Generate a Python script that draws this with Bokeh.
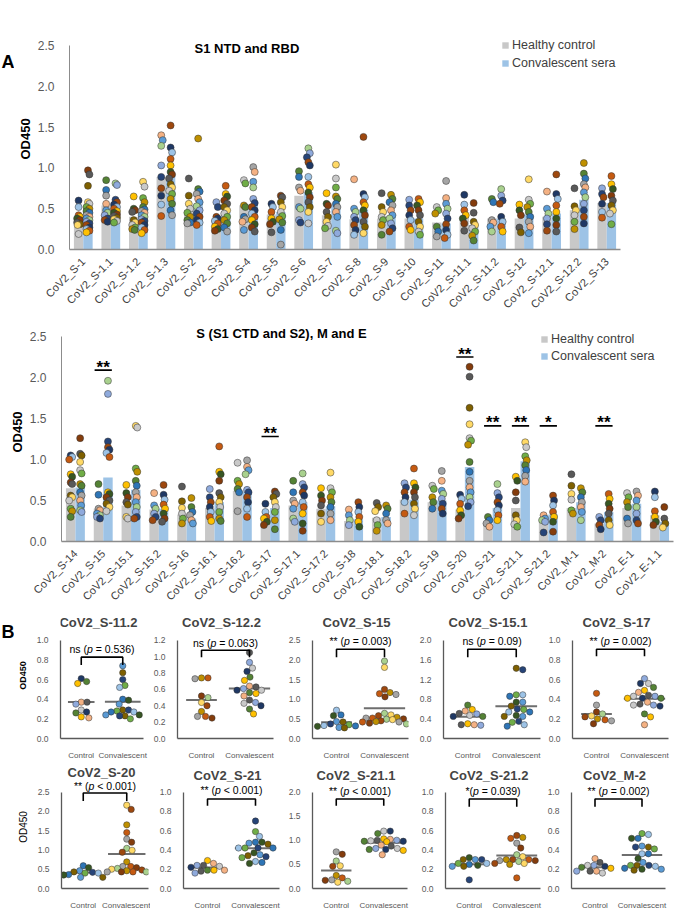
import math
from bokeh.plotting import figure
from bokeh.models import (ColumnDataSource, FactorRange, Range1d, FixedTicker,
                          NumeralTickFormatter, Label, Legend, LegendItem, Spacer)
from bokeh.layouts import column, row
from bokeh.embed import file_html
from bokeh.resources import INLINE
from bokeh.transform import dodge
from bokeh.core.properties import value

# ------------------------------------------------------------------ data
cats_top = ["CoV2_S-1", "CoV2_S-1.1", "CoV2_S-1.2", "CoV2_S-1.3", "CoV2_S-2", "CoV2_S-3",
            "CoV2_S-4", "CoV2_S-5", "CoV2_S-6", "CoV2_S-7", "CoV2_S-8", "CoV2_S-9",
            "CoV2_S-10", "CoV2_S-11", "CoV2_S-11.1", "CoV2_S-11.2", "CoV2_S-12",
            "CoV2_S-12.1", "CoV2_S-12.2", "CoV2_S-13"]
bar_ctrl_top = [0.38, 0.54, 0.40, 0.89, 0.48, 0.38, 0.54, 0.43, 0.66, 0.42, 0.37, 0.38,
                0.38, 0.33, 0.40, 0.38, 0.38, 0.40, 0.48, 0.57]
bar_conv_top = [0.48, 0.50, 0.45, 0.91, 0.56, 0.46, 0.55, 0.46, 0.70, 0.54, 0.49, 0.40,
                0.38, 0.32, 0.30, 0.38, 0.43, 0.44, 0.61, 0.57]
dots_ctrl_top = [
    [0.60, 0.52, 0.42, 0.40, 0.38, 0.36, 0.33, 0.31, 0.30, 0.19],
    [0.85, 0.73, 0.66, 0.56, 0.48, 0.45, 0.42, 0.38, 0.36, 0.34],
    [0.65, 0.50, 0.48, 0.46, 0.36, 0.33, 0.30, 0.27, 0.25, 0.24],
    [1.40, 1.34, 1.27, 1.03, 0.89, 0.75, 0.66, 0.55, 0.41],
    [0.87, 0.66, 0.56, 0.50, 0.45, 0.40, 0.36, 0.33, 0.32],
    [0.58, 0.52, 0.40, 0.38, 0.35, 0.32, 0.28, 0.25, 0.23],
    [0.85, 0.81, 0.54, 0.52, 0.40, 0.37, 0.34, 0.24],
    [0.56, 0.52, 0.46, 0.38, 0.34, 0.31, 0.21],
    [0.96, 0.89, 0.76, 0.72, 0.52, 0.50, 0.36, 0.33],
    [0.69, 0.56, 0.54, 0.46, 0.40, 0.34, 0.29, 0.26],
    [0.86, 0.50, 0.46, 0.40, 0.36, 0.30, 0.24, 0.18],
    [0.69, 0.52, 0.46, 0.40, 0.36, 0.30, 0.18],
    [0.61, 0.54, 0.48, 0.42, 0.36, 0.28, 0.24],
    [0.52, 0.48, 0.44, 0.28, 0.22, 0.16],
    [0.67, 0.55, 0.48, 0.42, 0.38, 0.32, 0.23],
    [0.62, 0.58, 0.36, 0.33, 0.28, 0.22],
    [0.55, 0.48, 0.42, 0.27, 0.21],
    [0.71, 0.50, 0.44, 0.38, 0.31, 0.23],
    [0.75, 0.53, 0.48, 0.42, 0.34, 0.25],
    [0.75, 0.68, 0.64, 0.56, 0.46, 0.39],
]
dots_conv_top = [
    [0.97, 0.92, 0.78, 0.58, 0.56, 0.52, 0.50, 0.47, 0.45, 0.42, 0.40, 0.38, 0.36, 0.34, 0.32, 0.30, 0.27, 0.25, 0.23, 0.21],
    [0.81, 0.79, 0.61, 0.58, 0.55, 0.52, 0.50, 0.47, 0.45, 0.43, 0.41, 0.39, 0.37, 0.35, 0.33],
    [0.83, 0.77, 0.63, 0.58, 0.52, 0.49, 0.47, 0.45, 0.42, 0.40, 0.37, 0.35, 0.33, 0.30, 0.27, 0.24, 0.20],
    [1.52, 1.25, 1.19, 1.11, 1.03, 0.95, 0.92, 0.87, 0.80, 0.76, 0.72, 0.68, 0.62, 0.56, 0.48, 0.42],
    [1.36, 0.74, 0.71, 0.68, 0.62, 0.58, 0.53, 0.48, 0.44, 0.40, 0.36, 0.33, 0.30],
    [0.78, 0.68, 0.65, 0.60, 0.56, 0.52, 0.48, 0.44, 0.40, 0.36, 0.32, 0.27, 0.22],
    [1.01, 0.95, 0.83, 0.76, 0.62, 0.57, 0.52, 0.48, 0.44, 0.40, 0.36, 0.31, 0.27, 0.22],
    [0.66, 0.64, 0.58, 0.52, 0.46, 0.41, 0.37, 0.33, 0.24, 0.06],
    [1.24, 1.18, 1.13, 1.07, 1.03, 0.89, 0.80, 0.76, 0.70, 0.64, 0.58, 0.52, 0.46, 0.32],
    [1.04, 0.87, 0.76, 0.65, 0.62, 0.56, 0.52, 0.46, 0.40, 0.23, 0.20],
    [1.38, 0.68, 0.64, 0.58, 0.54, 0.48, 0.42, 0.34, 0.28, 0.20],
    [0.67, 0.62, 0.58, 0.54, 0.48, 0.42, 0.38, 0.32, 0.26, 0.22],
    [0.62, 0.58, 0.54, 0.48, 0.42, 0.34, 0.28, 0.22, 0.18],
    [0.84, 0.63, 0.56, 0.50, 0.44, 0.38, 0.31, 0.24, 0.18, 0.14],
    [0.57, 0.45, 0.34, 0.30, 0.26, 0.22, 0.17, 0.11],
    [0.74, 0.66, 0.60, 0.56, 0.40, 0.34, 0.28, 0.22],
    [0.86, 0.61, 0.56, 0.52, 0.46, 0.40, 0.34, 0.28, 0.20],
    [0.92, 0.68, 0.62, 0.54, 0.46, 0.38, 0.30, 0.22],
    [1.06, 0.93, 0.87, 0.80, 0.76, 0.70, 0.64, 0.56, 0.48, 0.40, 0.32],
    [0.90, 0.80, 0.74, 0.66, 0.60, 0.54, 0.48, 0.44, 0.31],
]

cats_mid = ["CoV2_S-14", "CoV2_S-15", "CoV2_S-15.1", "CoV2_S-15.2", "CoV2_S-16",
            "CoV2_S-16.1", "CoV2_S-16.2", "CoV2_S-17", "CoV2_S-17.1", "CoV2_S-17.2",
            "CoV2_S-18", "CoV2_S-18.1", "CoV2_S-18.2", "CoV2_S-19", "CoV2_S-20",
            "CoV2_S-21", "CoV2_S-21.1", "CoV2_S-21.2", "CoV2_M-1", "CoV2_M-2",
            "CoV2_E-1", "CoV2_E-1.1"]
bar_ctrl_mid = [0.65, 0.40, 0.44, 0.39, 0.33, 0.41, 0.62, 0.26, 0.44, 0.40, 0.25, 0.29,
                0.51, 0.48, 0.39, 0.22, 0.41, 0.25, 0.41, 0.22, 0.41, 0.32]
bar_conv_mid = [0.66, 0.78, 0.63, 0.40, 0.28, 0.48, 0.61, 0.41, 0.48, 0.43, 0.27, 0.30,
                0.51, 0.50, 0.91, 0.41, 0.98, 0.33, 0.48, 0.36, 0.46, 0.24]
dots_ctrl_mid = [
    [1.05, 1.03, 1.00, 0.82, 0.79, 0.72, 0.70, 0.56, 0.54, 0.50, 0.40, 0.37, 0.30],
    [0.70, 0.57, 0.40, 0.38, 0.34, 0.32, 0.30, 0.28],
    [0.69, 0.59, 0.54, 0.48, 0.45, 0.30, 0.28],
    [0.59, 0.44, 0.40, 0.34, 0.30, 0.26],
    [0.67, 0.49, 0.41, 0.34, 0.28, 0.22],
    [0.64, 0.54, 0.48, 0.42, 0.36, 0.30, 0.25],
    [0.96, 0.74, 0.70, 0.64, 0.60, 0.37],
    [0.46, 0.36, 0.30, 0.28, 0.24, 0.20],
    [0.74, 0.60, 0.50, 0.46, 0.40, 0.28, 0.24],
    [0.65, 0.56, 0.50, 0.44, 0.34, 0.24],
    [0.39, 0.32, 0.26, 0.20],
    [0.47, 0.42, 0.37, 0.26, 0.20, 0.13],
    [0.71, 0.66, 0.60, 0.54, 0.48, 0.34],
    [0.68, 0.64, 0.54, 0.48, 0.40],
    [0.57, 0.52, 0.46, 0.38, 0.32, 0.28],
    [0.30, 0.26, 0.22, 0.18],
    [0.79, 0.74, 0.60, 0.50, 0.32, 0.26, 0.21, 0.18],
    [0.32, 0.28, 0.26, 0.24, 0.11],
    [0.82, 0.68, 0.58, 0.51, 0.38, 0.34],
    [0.30, 0.26, 0.20, 0.15],
    [0.59, 0.54, 0.48, 0.42, 0.28, 0.22],
    [0.61, 0.54, 0.37, 0.30, 0.24, 0.20],
]
dots_conv_mid = [
    [1.26, 1.07, 1.05, 0.97, 0.87, 0.83, 0.70, 0.68, 0.60, 0.56, 0.50, 0.44, 0.38, 0.36],
    [1.96, 1.80, 1.22, 1.15, 1.12, 1.08, 1.03, 0.60, 0.58, 0.54, 0.50, 0.46, 0.42, 0.37],
    [1.41, 1.39, 0.89, 0.85, 0.74, 0.68, 0.60, 0.54, 0.48, 0.42, 0.36, 0.30, 0.28],
    [0.69, 0.57, 0.51, 0.45, 0.40, 0.34, 0.28, 0.24],
    [0.53, 0.42, 0.36, 0.32, 0.26, 0.22],
    [1.16, 0.85, 0.82, 0.74, 0.59, 0.54, 0.48, 0.42, 0.36, 0.28, 0.25],
    [0.99, 0.91, 0.87, 0.82, 0.63, 0.60, 0.54, 0.48, 0.40, 0.30],
    [0.61, 0.58, 0.54, 0.48, 0.42, 0.36, 0.26, 0.15],
    [0.83, 0.70, 0.66, 0.60, 0.56, 0.48, 0.42, 0.34, 0.22, 0.13],
    [0.84, 0.65, 0.60, 0.54, 0.48, 0.42, 0.34, 0.26],
    [0.48, 0.42, 0.36, 0.30, 0.24, 0.18],
    [0.44, 0.40, 0.34, 0.26, 0.22],
    [0.89, 0.71, 0.66, 0.60, 0.54, 0.46, 0.40, 0.32],
    [0.86, 0.74, 0.62, 0.58, 0.52, 0.46, 0.40, 0.34],
    [2.13, 2.01, 1.63, 1.43, 1.26, 1.23, 1.18, 0.97, 0.85, 0.74, 0.66, 0.60, 0.54, 0.48, 0.43],
    [0.70, 0.59, 0.54, 0.48, 0.44, 0.38, 0.32, 0.26],
    [1.21, 1.15, 1.04, 0.99, 0.93, 0.87, 0.80, 0.73],
    [0.56, 0.50, 0.44, 0.36, 0.30, 0.24, 0.12],
    [0.65, 0.60, 0.54, 0.48, 0.42, 0.36, 0.26],
    [0.58, 0.52, 0.46, 0.40, 0.34, 0.26, 0.20],
    [0.61, 0.56, 0.50, 0.42, 0.34, 0.26, 0.22],
    [0.42, 0.28, 0.22, 0.17],
]
sig_cats = ["CoV2_S-15", "CoV2_S-17", "CoV2_S-20", "CoV2_S-21", "CoV2_S-21.1", "CoV2_S-21.2", "CoV2_M-2"]
sig_marks = ["**", "**", "**", "**", "**", "*", "**"]
sig_level = [2.09, 1.28, 2.25, 1.41, 1.41, 1.41, 1.41]

small_titles = ["CoV2_S-11.2", "CoV2_S-12.2", "CoV2_S-15", "CoV2_S-15.1", "CoV2_S-17",
                "CoV2_S-20", "CoV2_S-21", "CoV2_S-21.1", "CoV2_S-21.2", "CoV2_M-2"]
small_sig = ["ns (", "ns (", "** (", "ns (", "** (", "** (", "** (", "** (", "*(", "** ("]
small_pval = ["= 0.536)", "= 0.063)", "= 0.003)", "= 0.09)", "= 0.002)",
              "< 0.001)", "< 0.001)", "< 0.001)", "= 0.039)", "= 0.002)"]
small_ymax = [1.0, 1.2, 2.5, 2.0, 1.0, 2.5, 1.0, 2.0, 1.0, 1.0]
small_step = [0.2, 0.2, 0.5, 0.4, 0.2, 0.5, 0.2, 0.5, 0.2, 0.2]
small_groups = ["Control", "Convalescent"]
small_ctrl = [
    [0.61, 0.58, 0.56, 0.37, 0.37, 0.35, 0.29, 0.27, 0.26, 0.22, 0.21],
    [0.74, 0.74, 0.73, 0.52, 0.50, 0.44, 0.40, 0.33, 0.27, 0.27, 0.25],
    [0.72, 0.60, 0.58, 0.43, 0.42, 0.37, 0.35, 0.33, 0.32, 0.31, 0.28, 0.27],
    [0.68, 0.59, 0.56, 0.51, 0.50, 0.47, 0.45, 0.45, 0.30, 0.28, 0.28, 0.27],
    [0.46, 0.34, 0.27, 0.25, 0.23, 0.22, 0.20, 0.19, 0.18, 0.15],
    [0.59, 0.54, 0.46, 0.43, 0.42, 0.40, 0.40, 0.36, 0.35, 0.29, 0.29],
    [0.29, 0.26, 0.24, 0.24, 0.23, 0.22, 0.19, 0.19, 0.19, 0.18, 0.16],
    [0.76, 0.71, 0.57, 0.47, 0.46, 0.27, 0.22, 0.18, 0.17, 0.15, 0.13],
    [0.32, 0.30, 0.30, 0.30, 0.26, 0.26, 0.25, 0.24, 0.23, 0.23, 0.09],
    [0.31, 0.27, 0.24, 0.24, 0.23, 0.22, 0.21, 0.18, 0.18, 0.18, 0.16],
]
small_conv = [
    [0.74, 0.67, 0.60, 0.54, 0.52, 0.40, 0.39, 0.35, 0.29, 0.29, 0.28, 0.27, 0.27, 0.24, 0.24, 0.23, 0.23, 0.20],
    [1.05, 0.93, 0.86, 0.82, 0.75, 0.71, 0.64, 0.63, 0.61, 0.59, 0.59, 0.56, 0.55, 0.52, 0.47, 0.44, 0.43, 0.40, 0.36, 0.30],
    [1.97, 1.81, 1.25, 1.17, 1.14, 1.12, 1.06, 0.64, 0.60, 0.58, 0.54, 0.52, 0.52, 0.50, 0.49, 0.48, 0.45, 0.43, 0.42, 0.42, 0.39, 0.37],
    [1.43, 1.40, 0.89, 0.89, 0.86, 0.74, 0.74, 0.66, 0.60, 0.59, 0.54, 0.54, 0.47, 0.45, 0.45, 0.35, 0.33, 0.28, 0.25],
    [0.61, 0.56, 0.56, 0.52, 0.49, 0.47, 0.44, 0.43, 0.43, 0.41, 0.41, 0.41, 0.37, 0.35, 0.34, 0.34, 0.33, 0.25, 0.22, 0.14],
    [2.16, 2.05, 1.65, 1.45, 1.28, 1.20, 1.04, 0.99, 0.94, 0.69, 0.57, 0.57, 0.54, 0.52, 0.50, 0.48, 0.46, 0.43, 0.43, 0.43, 0.43],
    [0.70, 0.59, 0.54, 0.48, 0.48, 0.47, 0.46, 0.42, 0.42, 0.42, 0.42, 0.37, 0.35, 0.34, 0.33, 0.32, 0.28, 0.27, 0.26],
    [1.19, 1.19, 1.14, 1.03, 1.02, 1.00, 1.00, 0.99, 0.98, 0.98, 0.97, 0.90, 0.88, 0.83, 0.83, 0.81, 0.81, 0.79, 0.70],
    [0.55, 0.53, 0.52, 0.47, 0.42, 0.35, 0.33, 0.30, 0.30, 0.30, 0.29, 0.29, 0.28, 0.26, 0.26, 0.25, 0.11],
    [0.57, 0.56, 0.52, 0.52, 0.44, 0.43, 0.43, 0.41, 0.36, 0.36, 0.31, 0.27, 0.24, 0.24, 0.24, 0.23, 0.21, 0.20, 0.20, 0.19],
]

# ------------------------------------------------------------------ style
FONT = "Liberation Sans"
GRAY = "#c8c8c8"
BLUE = "#9dc3e6"
PAL = ["#1f3864", "#bf9000", "#9dc3e6", "#548235", "#c55a11", "#2e75b6", "#ffc000",
       "#a5a5a5", "#375623", "#f4b183", "#843c0c", "#5b9bd5", "#595959", "#a9d18e",
       "#7f6000", "#8faadc", "#ffd966", "#264478", "#c9c9c9", "#9e480e", "#70ad47"]
AW = {" ": 278, "(": 333, ")": 333, "=": 584, "<": 584, ".": 278, "n": 556, "s": 500,
      "*": 389, "p": 556}


def tw(s, size):
    return sum(AW.get(c, 556) for c in s) * size / 1000.0


def swarm(vals, ppu, d, maxoff, step=0.5):
    n = int(maxoff / step)
    cands = [0.0]
    for k in range(1, n + 1):
        cands += [k * step, -k * step]
    placed, offs = [], []
    for v in vals:
        y = v * ppu
        choice = None
        for x in cands:
            if all((x - a) ** 2 + (y - b) ** 2 >= d * d for a, b in placed):
                choice = x
                break
        if choice is None:
            choice = max(cands, key=lambda x: min((x - a) ** 2 + (y - b) ** 2 for a, b in placed))
        placed.append((choice, y))
        offs.append(choice)
    return offs


def letter_fig(letter, width, height, y_from_top):
    p = figure(width=width, height=height, x_range=Range1d(0, width), y_range=Range1d(0, height),
               x_axis_type=None, y_axis_type=None, output_backend="svg", toolbar_location=None,
               tools="", min_border=0)
    p.outline_line_color = None
    p.grid.visible = False
    p.text(x=[1], y=[height - y_from_top], text=[letter], text_font=value(FONT),
           text_font_size="18px", text_font_style="bold", text_baseline="middle",
           text_align="left", text_color="black")
    return p


def bar_panel(cats, bc, bv, dc, dv, width, bl, br, bt, ext, fh, bb, title, title_px, leg_px,
              leg_lh, sig=None):
    fw = width - bl - br
    ppc = fw / len(cats)
    ppu = fh / 2.5
    top = 2.5 + ext / ppu
    p = figure(width=width, height=bt + ext + fh + bb,
               x_range=FactorRange(factors=cats, range_padding=0),
               y_range=Range1d(0, top), output_backend="svg", toolbar_location=None, tools="",
               min_border_left=bl, min_border_right=br, min_border_top=bt, min_border_bottom=bb)
    p.outline_line_color = None
    p.xgrid.visible = False
    p.ygrid.visible = False
    src = ColumnDataSource(dict(cat=cats, ctrl=bc, conv=bv))
    r1 = p.vbar(x=dodge("cat", -0.17, range=p.x_range), top="ctrl", width=0.34, source=src,
                fill_color=GRAY, line_color=None)
    r2 = p.vbar(x=dodge("cat", 0.17, range=p.x_range), top="conv", width=0.34, source=src,
                fill_color=BLUE, line_color=None)
    xs, ys, cs = [], [], []
    for i in range(len(cats)):
        for side, vals, shift in ((-0.17, dc[i], 0), (0.17, dv[i], 10)):
            offs = swarm(vals, ppu, 5, 1.5)
            for j, (v, o) in enumerate(zip(vals, offs)):
                xs.append(i + 0.5 + side + o / ppc)
                ys.append(v)
                cs.append(PAL[(j * 2 + 3 * i + shift) % len(PAL)])
    p.scatter(x="x", y="y", source=ColumnDataSource(dict(x=xs, y=ys, c=cs)), size=7,
              fill_color="c", line_color="#333333", line_width=0.5)

    leg = Legend(items=[LegendItem(label="Healthy control", renderers=[r1]),
                        LegendItem(label="Convalescent sera", renderers=[r2])],
                 location=leg_px, orientation="vertical", border_line_color=None,
                 background_fill_alpha=0, padding=0, margin=0, spacing=0,
                 glyph_width=8, glyph_height=8, label_height=leg_lh, label_standoff=3,
                 label_text_font=FONT, label_text_font_size="12.5px", label_text_color="#404040")
    p.add_layout(leg)

    p.add_layout(Label(x=title_px[0] / ppc, y=title_px[1] / ppu, text=title,
                       text_font=FONT, text_font_size="13px", text_font_style="bold",
                       text_align="center", text_baseline="middle", text_color="black"))
    if sig:
        cats_s, marks, lev = sig
        ssrc = ColumnDataSource(dict(cat=cats_s, m=marks, y=lev))
        p.segment(x0=dodge("cat", -0.31, range=p.x_range), x1=dodge("cat", 0.31, range=p.x_range),
                  y0="y", y1="y", source=ssrc, line_color="black", line_width=1.6)
        p.text(x="cat", y="y", text="m", source=ssrc, text_font=value(FONT),
               text_font_size="17px", text_font_style="bold", text_align="center",
               text_baseline="middle", y_offset=-3, text_color="black")

    p.yaxis.bounds = (0, 2.5)
    p.yaxis.ticker = FixedTicker(ticks=[0, 0.5, 1.0, 1.5, 2.0, 2.5])
    p.yaxis.formatter = NumeralTickFormatter(format="0.0")
    p.yaxis.axis_label = "OD450"
    p.yaxis.axis_label_text_font = FONT
    p.yaxis.axis_label_text_font_size = "13px"
    p.yaxis.axis_label_text_font_style = "bold"
    p.yaxis.axis_label_text_color = "black"
    p.yaxis.axis_label_standoff = 2
    p.yaxis.major_label_text_font = FONT
    p.yaxis.major_label_text_font_size = "12px"
    p.yaxis.major_label_text_color = "#595959"
    p.yaxis.major_label_standoff = 9
    p.yaxis.axis_line_color = "#8c8c8c"
    p.xaxis.axis_line_color = "#8c8c8c"
    p.xaxis.axis_line_width = 1.5
    p.xaxis.major_label_orientation = math.pi / 4
    p.xaxis.major_label_text_font = FONT
    p.xaxis.major_label_text_font_size = "11px"
    p.xaxis.major_label_text_color = "#404040"
    p.xaxis.major_label_standoff = 4
    for ax in (p.xaxis, p.yaxis):
        ax.major_tick_line_color = None
        ax.minor_tick_line_color = None
    return p


def small_panel(k, width, bl, br, bt, ext, fh, bb, dy, title_dy, ylabel=None):
    fw = width - bl - br
    ymax, step = small_ymax[k], small_step[k]
    ppu = fh / ymax
    ppc = fw / 2.0
    top = ymax + ext / ppu
    p = figure(width=width, height=bt + ext + fh + bb, x_range=FactorRange(factors=small_groups),
               y_range=Range1d(0, top), output_backend="svg", toolbar_location=None, tools="",
               min_border_left=bl, min_border_right=br, min_border_top=bt, min_border_bottom=bb)
    p.outline_line_color = None
    p.xgrid.visible = False
    p.ygrid.visible = False
    xs, ys, cs = [], [], []
    for g, vals, shift in ((0.5, small_ctrl[k], 0), (1.5, small_conv[k], 11)):
        offs = swarm(vals, ppu, 6.3, 22)
        for j, (v, o) in enumerate(zip(vals, offs)):
            xs.append(g + o / ppc)
            ys.append(v)
            cs.append(PAL[(j * 3 + shift + k) % len(PAL)])
    m_c = sum(small_ctrl[k]) / len(small_ctrl[k])
    m_v = sum(small_conv[k]) / len(small_conv[k])
    p.segment(x0=[0.5 - 0.32, 1.5 - 0.43], x1=[0.5 + 0.32, 1.5 + 0.43], y0=[m_c, m_v],
              y1=[m_c, m_v], line_color="#6e6e6e", line_width=2)
    p.scatter(x="x", y="y", source=ColumnDataSource(dict(x=xs, y=ys, c=cs)), size=6.3,
              fill_color="c", line_color="#333333", line_width=0.5)

    t_dy, b_top, b_end = dy
    yt = ymax - b_top / ppu
    ye = ymax - b_end / ppu
    p.line(x=[0.5, 0.5, 1.5, 1.5], y=[ye, yt, yt, ye], line_color="black", line_width=1.6)
    # significance text with italic p
    fs = 10.5
    left, right = small_sig[k], small_pval[k]
    wl, wp, wsp, wr = tw(left, fs), tw("p", fs), tw(" ", fs), tw(right, fs)
    total = wl + wp + wsp + wr
    x0 = -total / 2.0
    yt_txt = ymax - t_dy / ppu
    common = dict(x=1.0, y=yt_txt, text_font=FONT, text_font_size=f"{fs}px",
                  text_baseline="middle", text_color="black")
    p.add_layout(Label(text=left, text_align="right", x_offset=x0 + wl, **common))
    p.add_layout(Label(text="p", text_align="left", x_offset=x0 + wl, text_font_style="italic", **common))
    p.add_layout(Label(text=right, text_align="left", x_offset=x0 + wl + wp + wsp, **common))
    # title
    p.add_layout(Label(x=1.0 - 4 / ppc, y=ymax + title_dy / ppu,
                       text=small_titles[k], text_font=FONT, text_font_size="13px",
                       text_font_style="bold", text_align="center", text_baseline="middle"))

    ticks = [round(i * step, 2) for i in range(int(round(ymax / step)) + 1)]
    p.yaxis.bounds = (0, ymax)
    p.yaxis.ticker = FixedTicker(ticks=ticks)
    p.yaxis.formatter = NumeralTickFormatter(format="0.0")
    p.yaxis.major_label_text_font = FONT
    p.yaxis.major_label_text_font_size = "8.5px"
    p.yaxis.major_label_text_color = "#595959"
    p.yaxis.major_label_standoff = 6
    if ylabel:
        p.yaxis.axis_label = "OD450"
        p.yaxis.axis_label_text_font = FONT
        p.yaxis.axis_label_text_font_size = ylabel[0]
        p.yaxis.axis_label_text_font_style = ylabel[1]
        p.yaxis.axis_label_text_color = "black"
        p.yaxis.axis_label_standoff = 6
    p.xaxis.major_label_text_font = FONT
    p.xaxis.major_label_text_font_size = "8px"
    p.xaxis.major_label_text_color = "#595959"
    p.xaxis.major_label_standoff = 6
    for ax in (p.xaxis, p.yaxis):
        ax.axis_line_color = "#595959"
        ax.axis_line_width = 1.3
        ax.major_tick_line_color = None
        ax.minor_tick_line_color = None
    return p


# ------------------------------------------------------------------ layout
LW = 14  # width of the column holding the panel letters
hA = 28 + 17 + 204 + 70
pA = bar_panel(cats_top, bar_ctrl_top, bar_conv_top, dots_ctrl_top, dots_conv_top,
               width=663, bl=47, br=57, bt=28, ext=17, fh=204, bb=70, title="S1 NTD and RBD",
               title_px=(180, 201), leg_px=(432, 177), leg_lh=18)
letA = letter_fig("A", LW, hA, 48)
hB = 3 + 14 + 205 + 70
pB = bar_panel(cats_mid, bar_ctrl_mid, bar_conv_mid, dots_ctrl_mid, dots_conv_mid,
               width=677, bl=61, br=4, bt=3, ext=14, fh=205, bb=70,
               title="S (S1 CTD and S2), M and E", title_px=(220, 208), leg_px=(479, 177),
               leg_lh=17, sig=(sig_cats, sig_marks, sig_level))

widths = [136, 131, 133, 130, 133]
bl1 = [36, 27, 31, 29, 28]
br1 = [7, 8, 6, 4, 9]
bl2 = [36, 33, 31, 31, 26]
br2 = [2, 2, 7, 4, 12]
dy1 = [(9, 17, 25), (3, 10, 17), (1, 9, 17), (1, 9, 17), (1, 9, 16)]
dy2 = [(-6, 1, 9), (-2, 7, 14), (-1, 7, 14), (-1, 7, 15), (-1, 7, 15)]
tdy2 = [20, 17, 17, 17, 17]

row1 = [small_panel(i, widths[i], bl1[i], br1[i], 1, 28, 99, 23, dy1[i], 18,
                    ylabel=("9px", "bold") if i == 0 else None) for i in range(5)]
row2 = [small_panel(5 + i, widths[i], bl2[i], br2[i], 3, 27, 98, 22, dy2[i], tdy2[i],
                    ylabel=("10px", "normal") if i == 0 else None) for i in range(5)]
h1 = 1 + 28 + 99 + 23
h2 = 3 + 27 + 98 + 22
letB = letter_fig("B", LW, h1, 634 - (hA + hB))

layout = column(row(letA, pA), pB, row(letB, *row1), row(Spacer(width=LW, height=h2), *row2))
open("out.html", "w").write(file_html(layout, INLINE))
